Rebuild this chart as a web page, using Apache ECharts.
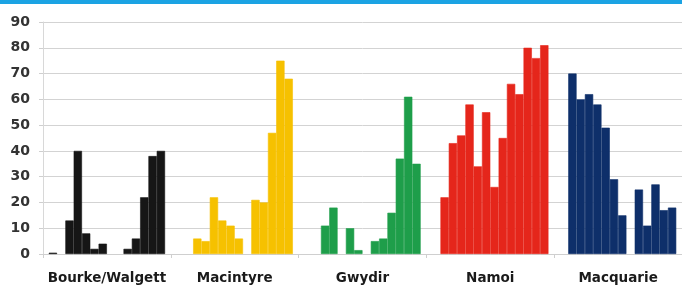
<!DOCTYPE html>
<html>
<head>
<meta charset="utf-8">
<script src="https://cdn.jsdelivr.net/npm/echarts@6/dist/echarts.min.js"></script>
<style>
  html, body { margin: 0; padding: 0; background: #fff; }
  #chart { width: 682px; height: 288px; }
</style>
</head>
<body>
<div id="chart"></div>
<script>
// valleys along the x axis
const regions = ['Bourke/Walgett', 'Macintyre', 'Gwydir', 'Namoi', 'Macquarie'];
const regionColors = ['#161616', '#f6c100', '#1e9e4a', '#e5261b', '#0e2f6a'];

// 14 yearly values per valley, oldest first
const bourkeWalgett = [0.5, 0, 13, 40, 8, 2, 4, 0, 0, 2, 6, 22, 38, 40];
const macintyre = [0, 0, 6, 5, 22, 13, 11, 6, 0, 21, 20, 47, 75, 68];
const gwydir = [0, 0, 11, 18, 0, 10, 1.5, 0, 5, 6, 16, 37, 61, 35];
const namoi = [0, 22, 43, 46, 58, 34, 55, 26, 45, 66, 62, 80, 76, 81];
const macquarie = [0, 70, 60, 62, 58, 49, 29, 15, 0, 25, 11, 27, 17, 18];

const yTicks = [0, 10, 20, 30, 40, 50, 60, 70, 80, 90];

const byRegion = [bourkeWalgett, macintyre, gwydir, namoi, macquarie];

// one bar series per year, coloured by valley
// (a thin border in the same colour closes the hairline gaps between bars)
const series = bourkeWalgett.map((_, yr) => ({
    type: 'bar',
    name: 'year' + (yr + 1),
    barGap: 0,
    barCategoryGap: '9%',
    data: byRegion.map((vals, i) => ({
        value: vals[yr],
        itemStyle: {
            color: regionColors[i],
            borderColor: regionColors[i],
            borderWidth: vals[yr] > 0 ? 0.6 : 0
        }
    })),
    silent: true
}));

const chart = echarts.init(document.getElementById('chart'));
chart.setOption({
    animation: false,
    grid: {left: 43, right: -6, top: 22, bottom: 34},
    graphic: [{
        type: 'rect',
        shape: {x: 0, y: 0, width: 682, height: 4},
        style: {fill: '#1ba3e3'}
    }],
    xAxis: {
        type: 'category',
        data: regions,
        axisLine: {lineStyle: {color: '#cfcfcf'}},
        axisTick: {show: true, length: 4, lineStyle: {color: '#cfcfcf'}},
        axisLabel: {
            color: '#1a1a1a',
            fontFamily: 'DejaVu Sans',
            fontWeight: 'bold',
            fontSize: 13.5,
            margin: 17,
            interval: 0
        }
    },
    yAxis: {
        type: 'value',
        min: yTicks[0],
        max: yTicks[yTicks.length - 1],
        interval: 10,
        axisLine: {show: true, lineStyle: {color: '#d8d8d8'}},
        axisTick: {show: true, length: 4, lineStyle: {color: '#cfcfcf'}},
        splitLine: {lineStyle: {color: '#d3d3d3'}},
        axisLabel: {
            color: '#333',
            fontFamily: 'DejaVu Sans',
            fontWeight: 'bold',
            fontSize: 14,
            margin: 13
        }
    },
    series: series
});
</script>
</body>
</html>
